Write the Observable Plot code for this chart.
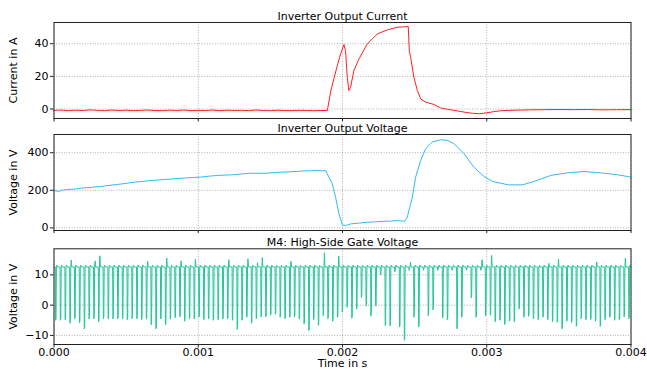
<!DOCTYPE html>
<html><head><meta charset="utf-8">
<script src="https://cdn.jsdelivr.net/npm/d3@7"></script>
<script src="https://cdn.jsdelivr.net/npm/@observablehq/plot@0.6"></script>
<style>
body{margin:0;background:white;}
#wrap{position:relative;width:647px;height:369px;overflow:hidden;background:white;}
#wrap > div{position:absolute;left:0;}
</style>
</head><body><div id="wrap"><div id="p1" style="top:0px"></div><div id="p2" style="top:122px"></div><div id="p3" style="top:233px"></div></div>
<script>
// ---------- data ----------
const titles = ["Inverter Output Current", "Inverter Output Voltage", "M4: High-Side Gate Voltage"];
const yLabels = ["Current in A", "Voltage in V", "Voltage in V"];
const xLabel = "Time in s";
const xTicks = [0, 0.001, 0.002, 0.003, 0.004];
const yTicksCurrent = [0, 20, 40];
const yTicksVoltage = [0, 200, 400];
const yTicksGate = [-10, 0, 10];

// [time s, current A]
const current = [
  [0,-0.9],[0.00005,-0.6],[0.0001,-1.0],[0.00015,-0.7],[0.0002,-0.9],[0.00025,-0.5],[0.0003,-0.8],[0.00035,-1.0],
  [0.0004,-0.6],[0.00045,-0.9],[0.0005,-0.7],[0.00055,-1.0],[0.0006,-0.8],[0.00065,-0.6],[0.0007,-0.9],[0.00075,-1.0],
  [0.0008,-0.7],[0.00085,-0.9],[0.0009,-0.6],[0.00095,-1.0],[0.001,-0.8],[0.00105,-0.9],[0.0011,-0.6],[0.00115,-1.0],
  [0.0012,-0.7],[0.00125,-0.9],[0.0013,-0.8],[0.00135,-1.0],[0.0014,-0.6],[0.00145,-0.9],[0.0015,-1.0],[0.00155,-0.7],
  [0.0016,-0.9],[0.00165,-1.0],[0.0017,-0.8],[0.00175,-0.9],[0.0018,-1.0],[0.00185,-0.9],
  [0.001895,-0.9],[0.001917,10.3],[0.00194,18.5],[0.001964,26.6],[0.001987,33.8],[0.00201,39.5],[0.002021,35.8],
  [0.002033,19.5],[0.002044,11.3],[0.002056,13.3],[0.002079,23.6],[0.002114,30.7],[0.002172,39.9],[0.002241,46],
  [0.002311,48.5],[0.00238,50.1],[0.002456,50.5],[0.002463,35.8],[0.002472,31.7],[0.002495,19.5],[0.002519,11.3],
  [0.002542,6.2],[0.002576,4.2],[0.002634,2.8],[0.00268,0.7],
  [0.00273,-0.2],[0.0028,-1.2],[0.00285,-2.0],[0.0029,-2.6],[0.00295,-2.9],[0.003,-2.3],[0.00305,-1.6],[0.0031,-1.0],
  [0.0032,-0.7],[0.0033,-0.5],[0.0034,-0.4],[0.0035,-0.3],[0.0036,-0.4],[0.0037,-0.3],[0.0038,-0.5],[0.0039,-0.4],[0.004,-0.4]
];

// [time s, voltage V]
const voltage = [
  [0,199],[0.00003,194],[0.00006,200],[0.0000915,204],[0.00015,207],[0.000207,213],[0.00026,216],[0.000322,220],
  [0.00038,226],[0.000438,231],[0.0005,237],[0.000553,243],[0.00061,247],[0.000669,252],[0.00073,255],[0.000785,258],
  [0.00084,262],[0.0009,265],[0.00096,268],[0.001016,270],[0.00107,275],[0.001132,279],[0.00119,281],[0.001247,283],
  [0.0013,287],[0.001363,291],[0.00142,290],[0.001478,291],[0.00154,295],[0.001594,297],[0.00165,299],[0.001709,302],
  [0.00177,304],[0.001825,306],[0.00186,303],[0.001883,306],[0.001894,288],[0.001929,235],[0.001952,163],[0.001975,75],
  [0.001999,16],[0.002021,12],[0.002056,21],[0.00211,25],[0.002172,30],[0.00223,32],[0.002287,35],[0.00234,36],
  [0.00238,39],[0.002431,35],[0.002449,57],[0.002484,163],[0.002507,270],[0.002542,359],[0.002576,421],[0.002623,457],
  [0.00268,469],[0.002727,466],[0.002773,448],[0.002842,395],[0.002911,323],[0.002981,274],[0.003039,247],[0.003096,238],
  [0.00315,229],[0.003247,229],[0.003327,247],[0.003443,279],[0.003559,293],[0.003674,300],[0.00379,293],[0.003906,283],[0.003998,270]
];

// gate pulses: low value of each switching pulse (V), in order
const gateLow = [
  -5,-5,-4.8,-6,-4.5,-5.8,-7.8,-4.6,-4.5,-5.5,-4.5,-4.5,-4.6,-4.5,-4.5,-4.8,-4.5,-4.5,-4.8,-4.6,-6.5,-7.8,-4.6,-6.5,-4.6,-4.2,-3.9,-5.3,-4.5,
  -4.6,-4,-4.8,-4.6,-5,-4.8,-4.6,-4.5,-5,-8,-5,-4,-6,-4.5,-3.9,-3.9,-3.3,-3,-4,-4.5,-4,-3.9,-4.6,-6.2,-8.4,-4.8,-6.7,-3.5,-4.5,-5.3,-4,
  -2.3,-0.7,-4.3,-1.3,2.6,-0.3,-3.6,-0.3,10,-6.7,-6.9,11,-7.2,-11.6,11.5,-4,-7.2,11.5,-3.5,-1.6,11.5,-4.3,-4.8,11.5,-7.8,-4,11.5,2.4,-4,11.5,
  -3.5,-3.3,-5.5,-5,-6.4,-5.3,-5.5,-1.3,-4,-3.7,-4.5,-4.8,-4,-4.8,-5.5,-5.7,-7.8,-5.3,-5.7,-7,-4.5,-4.8,-4.8,-5.3,-7,-4.8,-4,-5,-4.8,-3.9,-4.5
];
// [pulse index, overshoot peak V]
const gateSpikes = [[3,14.9],[8,14.6],[9,16.3],[19,14.5],[23,15.5],[26,14.6],[29,15.1],[36,15],[40,15.3],[42,14],[43,15.7],
  [49,14.5],[56,17.3],[59,16.2],[74,14.1],[89,15],[91,16.4],[103,13.8],[105,15.1],[113,14.3],[119,15.5]];
const gateFirstPulse = 0.00001, gateLastPulse = 0.003984;
const gatePlateau = 12.6, gateOvershoot = 13.2;

// ---------- build gate trace ----------
const spikeMap = new Map(gateSpikes);
const dtP = (gateLastPulse - gateFirstPulse) / (gateLow.length - 1);
const gate = [[0, gatePlateau]];
gateLow.forEach((lo, i) => {
  const t = gateFirstPulse + i * dtP;
  gate.push([t - 0.000001, gatePlateau]);
  gate.push([t + 0.000001, lo]);
  gate.push([t + 0.000004, lo + 0.5]);
  gate.push([t + 0.000007, gatePlateau]);
  gate.push([t + 0.000010, spikeMap.get(i) ?? gateOvershoot]);
  gate.push([t + 0.000014, gatePlateau]);
});
gate.push([0.004, gatePlateau]);

// ---------- drawing ----------
const W = 647, ML = 53.5, MR = 16.5;
const style = {fontFamily: "DejaVu Sans", fontSize: "11px", color: "black", background: "white", overflow: "visible"};
const gridStyle = {stroke: "#9a9a9a", strokeOpacity: 1, strokeWidth: 0.8, strokeDasharray: "1,1.6"};

function panel({data, color, yDomain, yTicks, title, yLabel, height, mt, mb, bottom}) {
  const marks = [
    Plot.gridX(xTicks, gridStyle),
    Plot.gridY(yTicks, gridStyle),
    Plot.line(data, {x: d => d[0], y: d => d[1], stroke: color, strokeWidth: 1}),
    Plot.frame({stroke: "#222", strokeWidth: 1}),
    Plot.axisY(yTicks, {tickSize: 3.5, tickPadding: 2, tickFormat: d3.format("d"), label: null, stroke: "#222"}),
    Plot.text([title], {frameAnchor: "top", text: d => d, dy: -3, lineAnchor: "bottom", fontSize: 11}),
    Plot.text([yLabel], {frameAnchor: "left", text: d => d, dx: -40.5, rotate: -90, textAnchor: "middle", lineAnchor: "middle", fontSize: 11})
  ];
  if (bottom) {
    marks.push(Plot.axisX(xTicks, {tickSize: 3.5, tickPadding: 0, tickFormat: d3.format(".3f"), label: null, stroke: "#222"}));
    marks.push(Plot.text([xLabel], {frameAnchor: "bottom", text: d => d, dy: 19.3, lineAnchor: "middle", fontSize: 11}));
  } else {
    marks.push(Plot.axisX(xTicks, {tickSize: 3.5, tickFormat: () => "", label: null, stroke: "#222"}));
  }
  return Plot.plot({
    width: W, height, marginLeft: ML, marginRight: MR, marginTop: mt, marginBottom: mb,
    style,
    x: {domain: [0, 0.004]},
    y: {domain: yDomain},
    marks
  });
}

document.getElementById("p1").append(panel({data: current, color: "#ff1f1f", yDomain: [-5.8, 53], yTicks: yTicksCurrent,
  title: titles[0], yLabel: yLabels[0], height: 122, mt: 22, mb: 4}));
document.getElementById("p2").append(panel({data: voltage, color: "#2fbcf2", yDomain: [-14, 497], yTicks: yTicksVoltage,
  title: titles[1], yLabel: yLabels[1], height: 111, mt: 12, mb: 3}));
document.getElementById("p3").append(panel({data: gate, color: "#22c795", yDomain: [-13, 18.6], yTicks: yTicksGate,
  title: titles[2], yLabel: yLabels[2], height: 136, mt: 15.3, mb: 25, bottom: true}));
</script></body></html>
